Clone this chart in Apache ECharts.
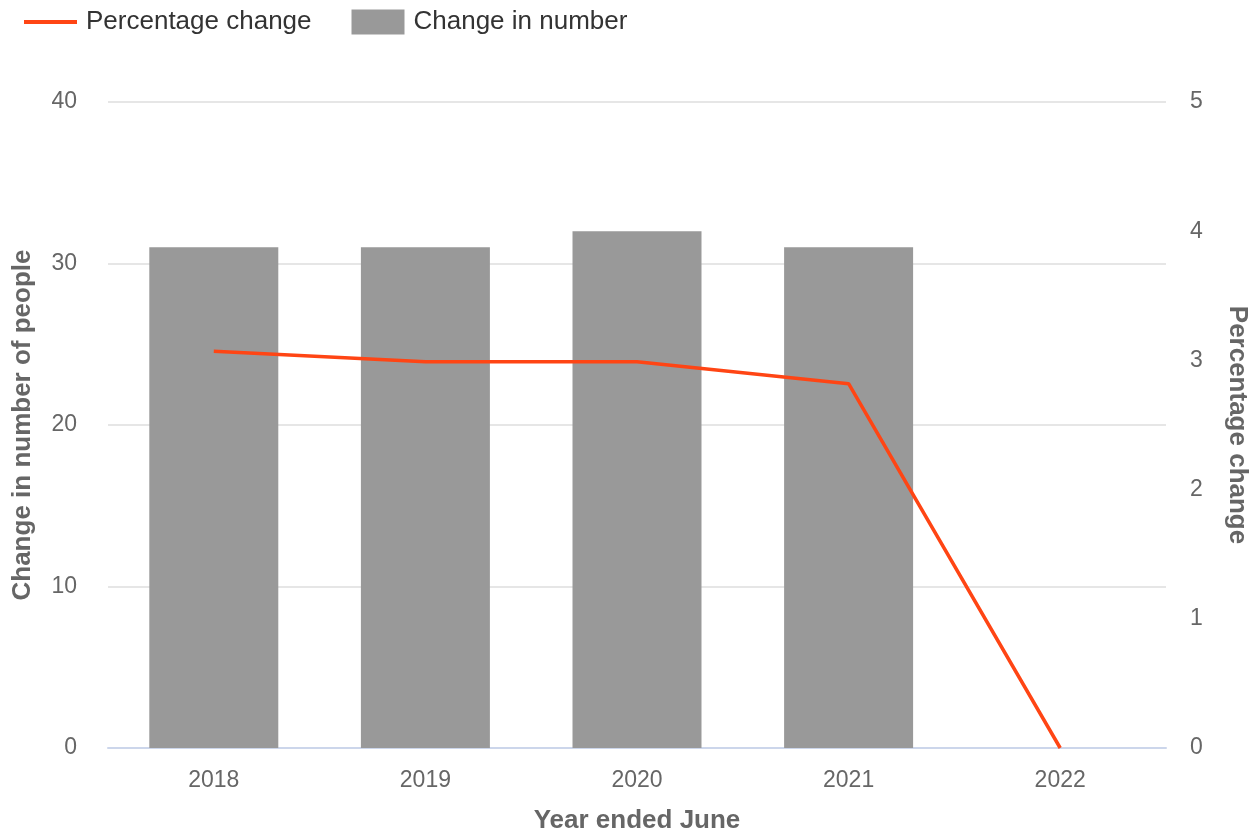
<!DOCTYPE html>
<html>
<head>
<meta charset="utf-8">
<script src="https://cdn.jsdelivr.net/npm/echarts@6/dist/echarts.min.js"></script>
<style>
html,body{margin:0;padding:0;background:#fff;}
#main{width:1259px;height:834px;}
</style>
</head>
<body>
<div id="main"></div>
<script>
const categories = ['2018', '2019', '2020', '2021', '2022'];
const changeInNumber = [31, 31, 32, 31, null];
const percentageChange = [3.07, 2.99, 2.99, 2.82, 0];
const leftTicks = [0, 10, 20, 30, 40];
const rightTicks = [0, 1, 2, 3, 4, 5];

const font = '"Liberation Sans", Arial, sans-serif';
const chart = echarts.init(document.getElementById('main'), null, {renderer: 'canvas'});
chart.setOption({
  animation: false,
  textStyle: {fontFamily: font},
  legend: {
    left: 19, top: 4,
    itemWidth: 53, itemHeight: 25, itemGap: 40,
    textStyle: {fontFamily: font, fontSize: 26, color: '#333333', padding: [0, 0, 0, 4]},
    data: [
      {name: 'Percentage change', icon: 'path://M0,0 L54,0 L54,4 L0,4 Z'},
      {name: 'Change in number', icon: 'rect'}
    ]
  },
  grid: {left: 108, right: 93, top: 102, bottom: 86, containLabel: false, outerBoundsMode: 'none'},
  xAxis: {
    type: 'category',
    data: categories,
    name: 'Year ended June',
    nameLocation: 'middle',
    nameGap: 60,
    nameTextStyle: {fontFamily: font, fontSize: 26, fontWeight: 'bold', color: '#666666'},
    axisLine: {lineStyle: {color: '#ccd6eb', width: 2}},
    axisTick: {alignWithLabel: true, length: 19, lineStyle: {color: '#ccd6eb', width: 2}},
    axisLabel: {fontFamily: font, fontSize: 23, color: '#666666', margin: 21}
  },
  yAxis: [
    {
      type: 'value', min: leftTicks[0], max: leftTicks[leftTicks.length - 1], interval: 10,
      name: 'Change in number of people',
      nameLocation: 'middle', nameRotate: 90, nameGap: 72,
      nameTextStyle: {fontFamily: font, fontSize: 26, fontWeight: 'bold', color: '#666666'},
      axisLine: {show: false}, axisTick: {show: false},
      axisLabel: {fontFamily: font, fontSize: 23, color: '#666666', margin: 31},
      splitLine: {lineStyle: {color: '#e6e6e6', width: 2}}
    },
    {
      type: 'value', min: rightTicks[0], max: rightTicks[rightTicks.length - 1], interval: 1,
      name: 'Percentage change',
      nameLocation: 'middle', nameRotate: -90, nameGap: 58,
      nameTextStyle: {fontFamily: font, fontSize: 26, fontWeight: 'bold', color: '#666666'},
      axisLine: {show: false}, axisTick: {show: false},
      axisLabel: {fontFamily: font, fontSize: 23, color: '#666666', margin: 24},
      splitLine: {show: false}
    }
  ],
  series: [
    {
      name: 'Change in number', type: 'bar', yAxisIndex: 0,
      data: changeInNumber, barWidth: 129,
      itemStyle: {color: '#999999'}
    },
    {
      name: 'Percentage change', type: 'line', yAxisIndex: 1,
      data: percentageChange, symbol: 'none',
      lineStyle: {color: '#ff4514', width: 3.5},
      itemStyle: {color: '#ff4514'}
    }
  ]
});
</script>
</body>
</html>
